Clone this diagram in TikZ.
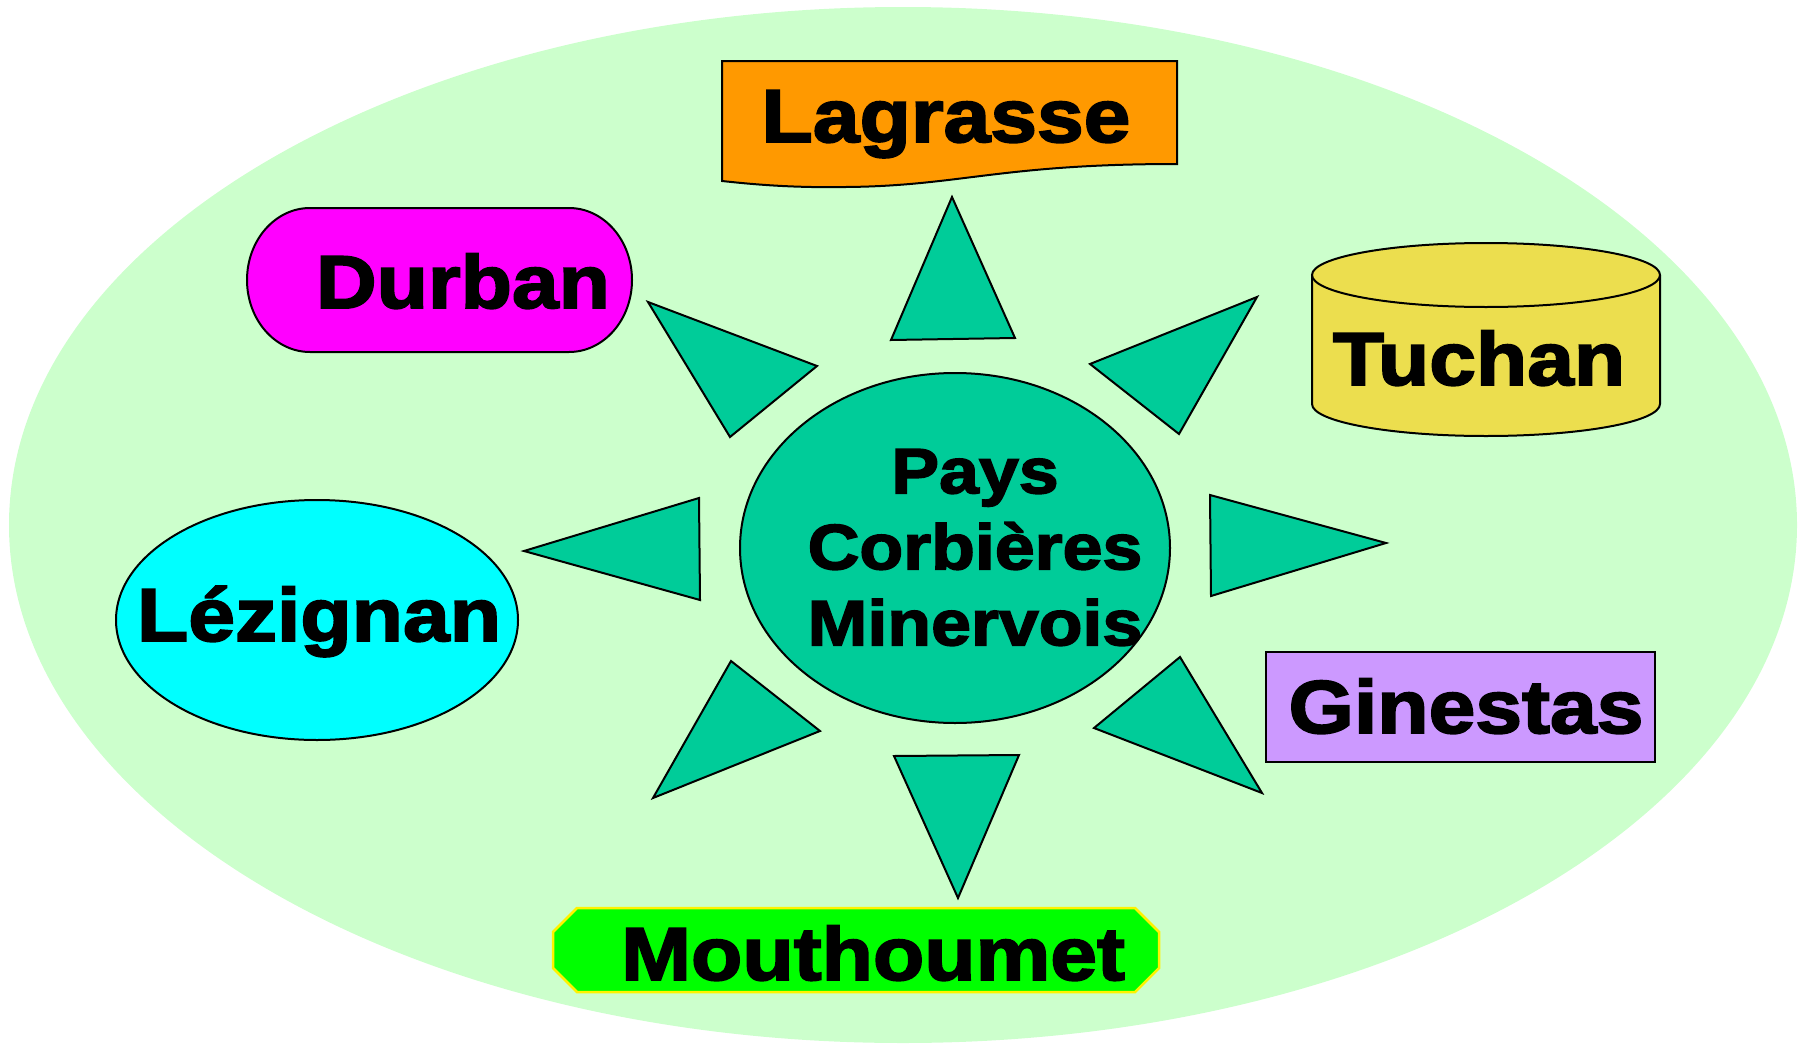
\documentclass[tikz,border=0pt]{standalone}
\usepackage{fontspec}
\newfontfamily\placefont[FakeStretch=1.12,BoldFeatures={FakeBold=2.5}]{Liberation Sans}
\usetikzlibrary{positioning,shapes.geometric}
\definecolor{bgreen}{HTML}{CCFFCC}
\definecolor{pays}{HTML}{00CC99}
\definecolor{lagrassec}{HTML}{FF9900}
\definecolor{durbanc}{HTML}{FF00FF}
\definecolor{tuchanc}{RGB}{236,222,78}
\definecolor{lezignanc}{HTML}{00FFFF}
\definecolor{ginestasc}{HTML}{CC99FF}
\definecolor{mouthc}{HTML}{00FF00}
\begin{document}
\begin{tikzpicture}[x=1pt,y=-1pt,line width=2pt]
	\tikzset{place/.style={font=\placefont\bfseries\fontsize{75}{90}\selectfont,anchor=base,inner sep=0pt}}
	\tikzset{ray/.style={fill=pays,draw=black,line join=miter}}
	\useasboundingbox (0,0) rectangle (1805,1044);
	% background
	\node[ellipse,fill=bgreen,minimum width=1788pt,minimum height=1036pt,inner sep=0pt] (bg) at (903,525) {};
	% centre
	\node[ellipse,fill=pays,draw=black,minimum width=430pt,minimum height=350pt,inner sep=0pt] (centre) at (955,548) {};
	\node[font=\placefont\bfseries\fontsize{64}{76}\selectfont,align=center,inner sep=0pt] (paystext) at (975,547.5) {Pays\\Corbi\`eres\\Minervois};
	% rays
	\foreach \ax/\ay/\bx/\by/\cx/\cy in {952/197/891/340/1015/338, 1257/297/1090/364/1179/434,
		1386/543/1210/495/1211/596, 1262/793/1180/657/1094/728, 958/898/894/756/1019/755,
		653/798/731/661/820/731, 524/551/699/498/700/600, 648/302/730/437/817/366}
		\draw[ray] (\ax,\ay) -- (\bx,\by) -- (\cx,\cy) -- cycle;
	% Lagrasse
	\draw[fill=lagrassec] (722,61) -- (1177,61) -- (1177,164) .. controls (1000,164) and (960,186) .. (846,187)
		.. controls (790,188) and (750,184) .. (722,181) -- cycle;
	\node[place] (lagrasse) at (946,142) {Lagrasse};
	% Durban
	\draw[fill=durbanc] (310,208) -- (569,208) arc[start angle=-90,end angle=90,x radius=63,y radius=72]
		-- (310,352) arc[start angle=90,end angle=270,x radius=63,y radius=72] -- cycle;
	\node[place] (durban) at (463,308) {Durban};
	% Tuchan
	\draw[fill=tuchanc] (1312,275) -- (1312,404) arc[start angle=180,end angle=0,x radius=174,y radius=32] -- (1660,275);
	\draw[fill=tuchanc] (1486,275) ellipse[x radius=174,y radius=32];
	\node[place] (tuchan) at (1479,385) {Tuchan};
	% Lezignan
	\node[ellipse,fill=lezignanc,draw=black,minimum width=402pt,minimum height=240pt,inner sep=0pt] (lezignanbox) at (317,620) {};
	\node[place] (lezignan) at (319,641) {L\'ezignan};
	% Ginestas
	\draw[fill=ginestasc] (1266,652) rectangle (1655,762);
	\node[place] (ginestas) at (1466,733) {Ginestas};
	% Mouthoumet
	\draw[fill=mouthc,draw=yellow,line width=2.5pt] (577,908) -- (1135,908) -- (1159,932) -- (1159,968) -- (1135,992)
		-- (577,992) -- (553,968) -- (553,932) -- cycle;
	\node[place] (mouthoumet) at (873,980) {Mouthoumet};
\end{tikzpicture}
\end{document}
